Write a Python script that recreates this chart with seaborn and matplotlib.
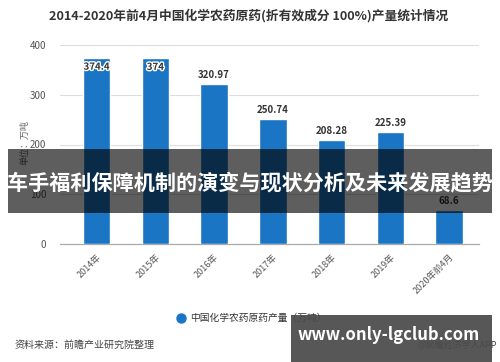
import matplotlib
matplotlib.use("Agg")
import matplotlib.pyplot as plt
import matplotlib.patheffects as pe
from matplotlib.patches import Rectangle
import seaborn as sns
import pandas as pd

categories = ["2014年", "2015年", "2016年", "2017年", "2018年", "2019年", "2020年前4月"]
values = [374.4, 374, 320.97, 250.74, 208.28, 225.39, 68.6]
value_labels = ["374.4", "374", "320.97", "250.74", "208.28", "225.39", "68.6"]
yticks = [0, 100, 200, 300, 400]
series_name = "中国化学农药原药产量（万吨）"
title = "2014-2020年前4月中国化学农药原药(折有效成分 100%)产量统计情况"
banner = "车手福利保障机制的演变与现状分析及未来发展趋势"

sns.set_style("white")
plt.rcParams['font.family'] = ['Noto Sans CJK SC', 'DejaVu Sans']

W, H = 500, 362
fig = plt.figure(figsize=(W / 100, H / 100), dpi=100)
ax = fig.add_axes([60 / W, (H - 244) / H, (479 - 60) / W, (244 - 45) / H])

df = pd.DataFrame({"cat": categories, "val": values})
bar_color = "#1a75c4"
sns.barplot(data=df, x="cat", y="val", color=bar_color, width=0.47, ax=ax,
            saturation=1, zorder=3)

ax.set_ylim(0, 400)
ax.set_xlim(-0.624, 6.51)
ax.set_yticks(yticks)
ax.set_yticklabels([str(t) for t in yticks], color="#555555", fontsize=7)
ax.grid(axis="y", color="#dddddd", linewidth=0.8, zorder=0)
ax.set_axisbelow(True)
for s in ["top", "right", "left"]:
    ax.spines[s].set_visible(False)
ax.spines["bottom"].set_color("#aaaaaa")
ax.spines["bottom"].set_linewidth(0.9)
ax.tick_params(axis="y", length=0, pad=10)
ax.tick_params(axis="x", length=4, color="#aaaaaa", pad=2)
ax.set_xticks(range(len(categories)))
ax.set_xticklabels(categories, rotation=45, ha="right", rotation_mode="anchor",
                   color="#555555", fontsize=6.5)
ax.set_xlabel("")
ax.set_ylabel("")

for i, (v, lab) in enumerate(zip(values, value_labels)):
    if v > 360:
        ax.text(i, v - 8, lab, ha="center", va="top", fontsize=7, fontweight="bold",
                color="#333333",
                path_effects=[pe.withStroke(linewidth=2, foreground="white")], zorder=5)
    else:
        ax.text(i, v + 8, lab, ha="center", va="bottom", fontsize=7, fontweight="bold",
                color="#333333", zorder=5)

fig.text(249 / W, 1 - 16 / H, title, ha="center", va="center", fontsize=9.2,
         fontweight="bold", color="#333333")
fig.text(25 / W, 1 - 143 / H, "单位：万吨", rotation=90, ha="center", va="center",
         fontsize=6.5, color="#666666")

# legend
fig.add_artist(plt.Line2D([181 / W], [1 - 318 / H], marker="o", markersize=6.5,
                          color=bar_color, linestyle="none", transform=fig.transFigure))
fig.text(190 / W, 1 - 318 / H, series_name, ha="left", va="center", fontsize=7,
         color="#333333")

fig.text(15 / W, 1 - 345 / H, "资料来源：前瞻产业研究院整理", ha="left", va="center",
         fontsize=7.2, color="#444444")
fig.text(497 / W, 1 - 345 / H, "@前瞻经济学人APP", ha="right", va="center",
         fontsize=6.5, color="#444444")

# overlay banner
fig.add_artist(Rectangle((8 / W, 1 - 213 / H), (492 - 8) / W, 64 / H,
                         transform=fig.transFigure, facecolor="black", alpha=0.63,
                         edgecolor="none", zorder=10))
fig.text(250 / W, 1 - 183 / H, banner, ha="center", va="center", fontsize=15.2,
         fontweight="bold", color="white", zorder=11)

# watermark box
fig.add_artist(Rectangle((291 / W, 0), (492 - 291) / W, (362 - 315) / H,
                         transform=fig.transFigure, facecolor="#4a4a4a", alpha=0.93,
                         edgecolor="none", zorder=10))
fig.text(389 / W, 1 - 335 / H, "www.only-lgclub.com", ha="center", va="center",
         fontsize=12, fontweight="bold", color="white", zorder=11)

fig.savefig("out.png", dpi=100)
